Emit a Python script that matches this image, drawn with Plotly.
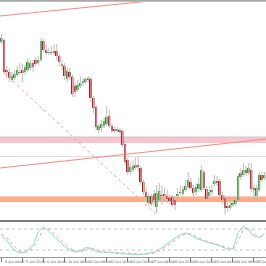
import plotly.graph_objects as go

# ---- data (price in points) ----
opens = [11858,11860,11830,11828,11820,11822,11825,11827,11830,11828,11830,11832,11837,11840,11837,11840,11859,11850,11847,11848,
         11847,11849,11844,11834,11834,11821,11828,11823,11814,11810,11814,11817,11818,11820,11821,11802,11793,11770,11772,11774,
         11776,11784,11774,11771,11769,11770,11769,11756,11740,11728,11730,11732,11735,11732,11718,11708,11697,11704,11706,11693,
         11700,11705,11706,11704,11702,11703,11700,11704,11708,11706,11710,11713,11718,11712,11708,11711,11710,11728,11711,11704,
         11708,11716,11719,11719,11705,11702,11694,11692,11695,11696,11700,11723,11725,11730,11727,11730,11712,11704,11710,11725,
         11722,11724]
highs = [11866,11861,11834,11832,11828,11830,11834,11837,11836,11835,11842,11840,11840,11843,11844,11862,11861,11855,11852,11854,
         11856,11856,11846,11840,11837,11832,11832,11825,11818,11820,11824,11822,11823,11824,11823,11804,11795,11776,11780,11782,
         11794,11790,11776,11773,11773,11772,11771,11759,11742,11737,11740,11742,11743,11734,11720,11712,11707,11706,11710,11715,
         11717,11715,11712,11710,11706,11705,11704,11712,11714,11714,11720,11728,11722,11715,11717,11722,11735,11730,11714,11714,
         11715,11725,11724,11721,11708,11705,11698,11698,11700,11702,11726,11732,11737,11734,11737,11737,11715,11715,11728,11728,
         11728,11729]
lows = [11856,11826,11822,11818,11818,11820,11823,11825,11818,11825,11828,11830,11828,11834,11835,11838,11848,11845,11845,11845,
        11845,11840,11834,11830,11820,11818,11820,11803,11803,11808,11812,11814,11816,11818,11798,11787,11770,11767,11768,11772,
        11774,11772,11767,11767,11768,11766,11753,11735,11725,11725,11728,11730,11728,11715,11705,11700,11694,11694,11695,11687,
        11698,11695,11698,11697,11696,11693,11690,11702,11705,11704,11708,11711,11710,11704,11705,11708,11708,11710,11698,11702,
        11705,11714,11714,11703,11696,11685,11688,11690,11693,11694,11698,11720,11723,11724,11725,11708,11700,11700,11708,11718,
        11720,11722]
closes = [11862,11828,11828,11822,11824,11826,11830,11828,11827,11833,11838,11837,11833,11836,11840,11859,11850,11847,11848,11847,
          11849,11844,11838,11836,11824,11829,11823,11806,11808,11815,11817,11819,11821,11822,11802,11792,11773,11774,11776,11779,
          11783,11774,11769,11769,11771,11768,11755,11738,11728,11733,11734,11735,11733,11718,11708,11703,11704,11696,11700,11707,
          11709,11704,11704,11701,11699,11695,11695,11706,11707,11711,11714,11720,11712,11707,11713,11716,11730,11712,11701,11708,
          11710,11719,11717,11705,11700,11692,11692,11695,11697,11700,11724,11727,11730,11727,11732,11711,11710,11712,11725,11720,
          11725,11726]

stoch_main = [60,47,27,14,12,20,34,72,87,73,60,45,30,20,14,17,27,25,15,14,14,13,10,9,9,8,7,8,10,14,
              22,33,44,54,63,69,62,53,48,42,38,35,29,22,24,70,89,76,60,56,67]
stoch_signal = [65,55,38,22,13,15,26,50,82,80,66,52,38,26,17,15,21,26,20,15,14,13,12,10,9,8,8,8,9,11,
                17,27,38,49,58,66,66,58,51,45,40,36,32,26,22,45,80,83,68,58,61]
stoch_step = 2

tick_labels = ["4 Oct 04:00","5 Oct 12:00","6 Oct 20:00","10 Oct 04:00","11 Oct 08:00","12 Oct 16:00",
               "13 Oct 20:00","17 Oct 04:00","18 Oct 12:00","19 Oct 20:00","23 Oct 00:00","24 Oct 08:00","25 Oct 16:00"]
tick_every = 8

# levels (points)
pink_zone = (11757, 11763)
gray_level = 11743.5
orange_zone = (11698, 11703.5)
up_trend = ((-0.6, 11732), (100.6, 11761))
top_trend = ((-0.6, 11884), (60.3, 11900))
dotted_trend = ((1.0, 11827), (58.7, 11686))
stoch_levels = [80, 20]

n = len(opens)
idx = list(range(n))
GREEN = "#2e962e"
RED = "#c4141e"

fig = go.Figure()

# wicks
wx, wy = [], []
for i in idx:
    wx += [i, i, None]
    wy += [lows[i], highs[i], None]
fig.add_trace(go.Scatter(x=wx, y=wy, mode="lines", line=dict(color="#bdbdbd", width=1),
                         hoverinfo="skip", showlegend=False, xaxis="x", yaxis="y"))

# bodies
base = [min(o, c) for o, c in zip(opens, closes)]
height = [max(abs(c - o), 0.8) for o, c in zip(opens, closes)]
colors = [GREEN if c >= o else RED for o, c in zip(opens, closes)]
fig.add_trace(go.Bar(x=idx, y=height, base=base, width=0.72, marker=dict(color=colors, line=dict(width=0)),
                     showlegend=False, xaxis="x", yaxis="y"))

# stochastic
sx = [k * stoch_step for k in range(len(stoch_main))]
fig.add_trace(go.Scatter(x=sx, y=stoch_signal, mode="lines", line=dict(color="#f4a090", width=1, dash="dot"),
                         showlegend=False, xaxis="x2", yaxis="y2"))
fig.add_trace(go.Scatter(x=sx, y=stoch_main, mode="lines", line=dict(color="#86dcd4", width=1),
                         showlegend=False, xaxis="x2", yaxis="y2"))

xr = [-0.57, 100.57]
H = 266.0
main_dom = [(H - 221) / H, (H - 2) / H]
ind_dom = [(H - 257) / H, (H - 222) / H]

shapes = [
    dict(type="rect", xref="paper", yref="y", x0=0, x1=1, y0=orange_zone[0], y1=orange_zone[1],
         fillcolor="#ffaa88", line=dict(width=0), layer="below"),
    dict(type="rect", xref="paper", yref="y", x0=0, x1=1, y0=pink_zone[0], y1=pink_zone[1],
         fillcolor="#f9c3cf", line=dict(width=0), layer="below"),
    dict(type="line", xref="paper", yref="y", x0=0, x1=1, y0=pink_zone[1], y1=pink_zone[1],
         line=dict(color="#c8c8c8", width=1), layer="below"),
    dict(type="line", xref="paper", yref="y", x0=0, x1=1, y0=gray_level, y1=gray_level,
         line=dict(color="#dddddd", width=1), layer="below"),
    dict(type="line", xref="x", yref="y", x0=up_trend[0][0], y0=up_trend[0][1], x1=up_trend[1][0], y1=up_trend[1][1],
         line=dict(color="#f58a78", width=1)),
    dict(type="line", xref="x", yref="y", x0=top_trend[0][0], y0=top_trend[0][1], x1=top_trend[1][0], y1=top_trend[1][1],
         line=dict(color="#f58a78", width=1)),
    dict(type="line", xref="x", yref="y", x0=dotted_trend[0][0], y0=dotted_trend[0][1], x1=dotted_trend[1][0], y1=dotted_trend[1][1],
         line=dict(color="#f8a090", width=1, dash="dot")),
    dict(type="rect", xref="paper", yref="paper", x0=0, x1=1, y0=(H - 1.7) / H, y1=1,
         fillcolor="#a8a8a8", line=dict(width=0)),
    dict(type="line", xref="paper", yref="paper", x0=0, x1=1, y0=(H - 221) / H, y1=(H - 221) / H,
         line=dict(color="#505050", width=1.5)),
]
for lv in stoch_levels:
    shapes.append(dict(type="line", xref="paper", yref="y2", x0=0, x1=1, y0=lv, y1=lv,
                       line=dict(color="#c4c4c4", width=1, dash="dot"), layer="below"))

tick_pos = [k * tick_every for k in range(len(tick_labels))]
annotations = [dict(x=p, y=(H - 261.5) / H, xref="x2", yref="paper", text=t, showarrow=False,
                    xanchor="left", yanchor="middle", xshift=1,
                    font=dict(size=3.3, color="#444444", family="DejaVu Sans"))
               for p, t in zip(tick_pos, tick_labels)]

fig.update_layout(
    width=266, height=266, margin=dict(l=0, r=0, t=0, b=0),
    paper_bgcolor="white", plot_bgcolor="white", showlegend=False,
    barmode="overlay",
    xaxis=dict(domain=[0, 1], range=xr, anchor="y", visible=False, fixedrange=True),
    yaxis=dict(domain=main_dom, range=[11679, 11898], visible=False),
    xaxis2=dict(domain=[0, 1], range=xr, anchor="y2", showgrid=False, zeroline=False,
                showline=True, linecolor="#9a9a9a", linewidth=1,
                tickmode="array", tickvals=tick_pos, ticktext=[""] * len(tick_pos),
                ticks="outside", ticklen=4, tickcolor="#777777", tickwidth=1, showticklabels=False),
    yaxis2=dict(domain=ind_dom, range=[0, 100], visible=False),
    shapes=shapes, annotations=annotations,
)

fig.write_html("out.html")
